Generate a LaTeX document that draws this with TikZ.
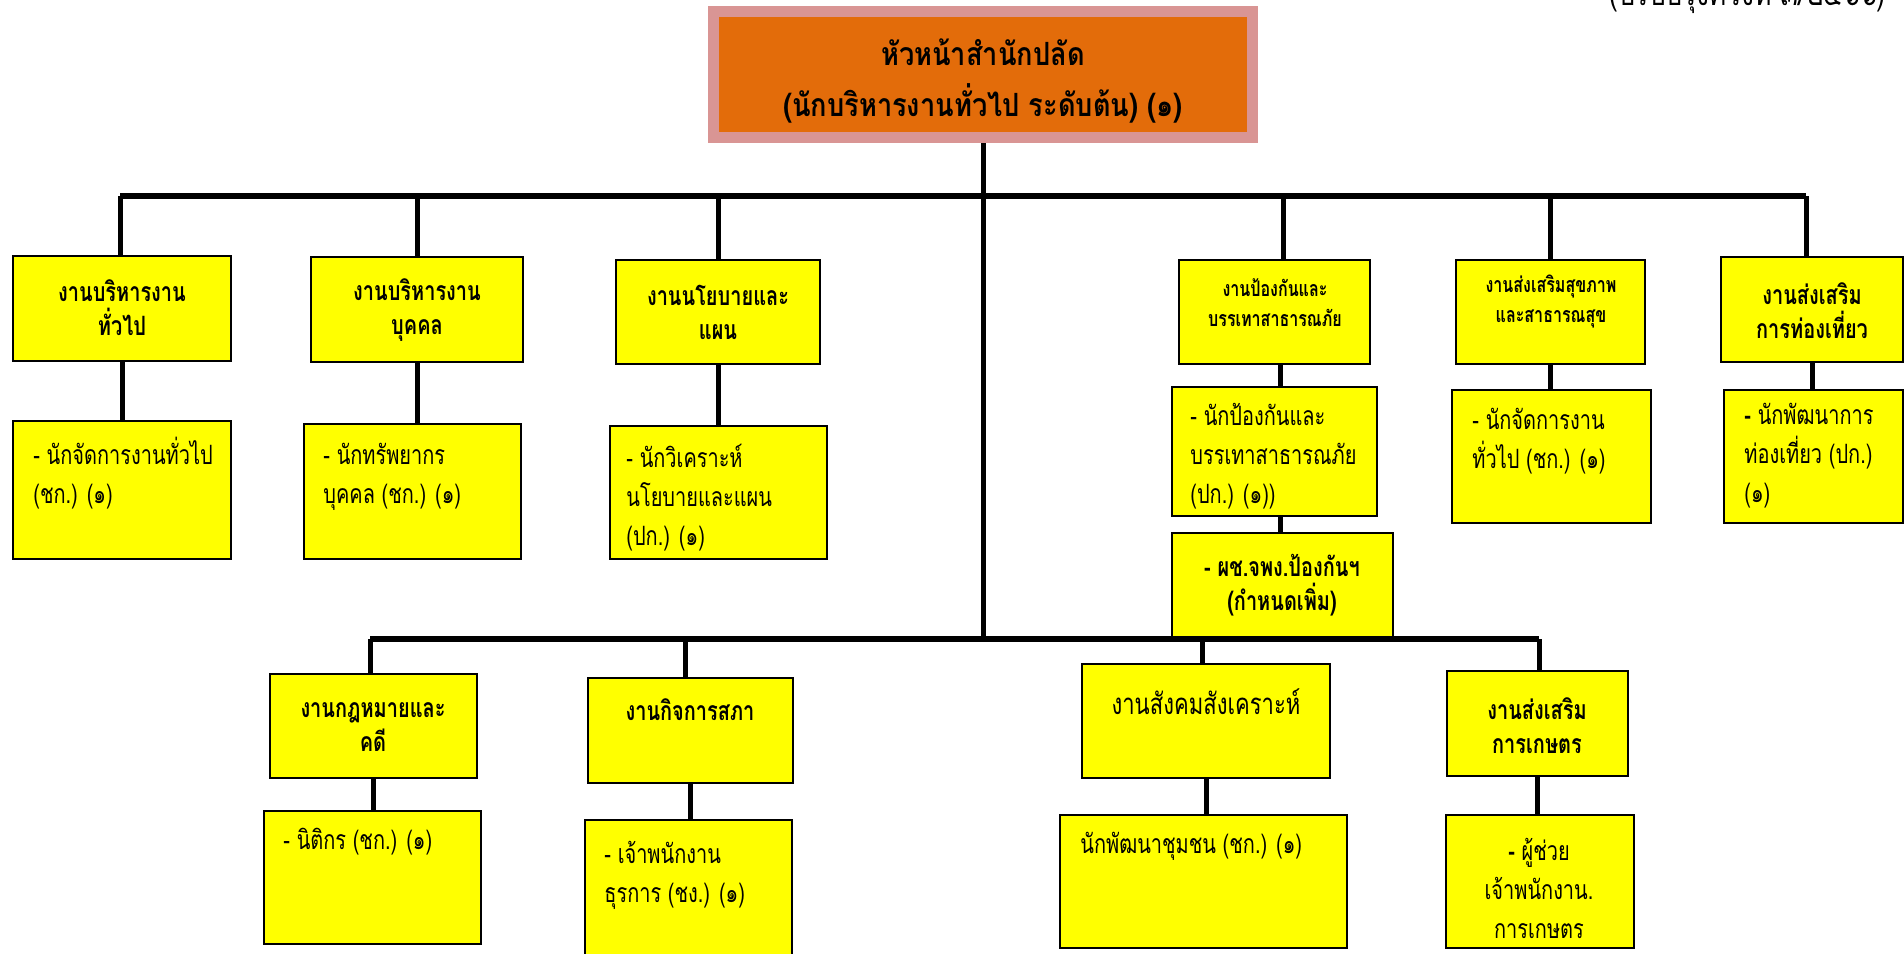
\documentclass[tikz,border=0pt]{standalone}
\usepackage{fontspec}
\newfontfamily\thai[Script=Thai, FakeStretch=0.75]{Loma}
\newfontfamily\thaitop[Script=Thai, FakeStretch=0.85]{Loma}
\definecolor{headorange}{HTML}{E36C0A}
\definecolor{headpink}{HTML}{D99594}
\definecolor{boxyellow}{HTML}{FFFF00}
\tikzset{
  yb/.style={draw=black, fill=boxyellow, line width=1pt, inner sep=0pt},
  conn/.style={line width=2.5pt, draw=black},
  bus/.style={line width=3pt, draw=black},
  hd/.style={font={\thai\bfseries\fontsize{13.3}{17}\selectfont}, align=center, inner sep=0pt},
  hdsmall/.style={font={\thai\bfseries\fontsize{10.7}{15}\selectfont}, align=center, inner sep=0pt},
  bd/.style={font={\thai\fontsize{13.3}{19.5}\selectfont}, align=left, inner sep=0pt, anchor=west},
}
\newcommand\ybox[6]{%
  \node[#6, minimum width={(#4-#2)*0.5pt}, minimum height={(#5-#3)*0.5pt}] (#1) at ({(#2+#4)/2},{(#3+#5)/2}) {};}
\begin{document}
\begin{tikzpicture}[x=0.5pt, y=-0.5pt]
\useasboundingbox (0,0) rectangle (1904,953);

% top box
\ybox{top}{713.5}{11.5}{1252.5}{137.5}{draw=headpink, fill=headorange, line width=5.5pt}
\node[font={\thaitop\bfseries\fontsize{16}{25.5}\selectfont}, align=center, inner sep=0pt] (toptxt) at (983,80.5)
  {หัวหน้าสำนักปลัด\\(นักบริหารงานทั่วไป ระดับต้น) (๑)};

\node[font={\thaitop\fontsize{15.5}{17}\selectfont}, anchor=base east, inner sep=0pt] (rev) at (1886,5) {(ปรับปรุงครั้งที่ ๓/๒๕๖๖)};

% buses
\coordinate (busL) at (120,196);
\coordinate (busR) at (1806,196);
\coordinate (lowL) at (370,639);
\coordinate (lowR) at (1539,639);

% row 1 heads
\ybox{h1}{13}{256}{231}{361}{yb}
\ybox{h2}{311}{257}{523}{362}{yb}
\ybox{h3}{616}{260}{820}{364}{yb}
\ybox{h4}{1179}{260}{1370}{364}{yb}
\ybox{h5}{1456}{260}{1645}{364}{yb}
\ybox{h6}{1721}{257}{1903}{362}{yb}
% row 1 subs
\ybox{s1}{13}{421}{231}{559}{yb}
\ybox{s2}{304}{424}{521}{559}{yb}
\ybox{s3}{610}{426}{827}{559}{yb}
\ybox{s4}{1172}{387}{1377}{516}{yb}
\ybox{s4b}{1172}{533}{1393}{637}{yb}
\ybox{s5}{1452}{390}{1651}{523}{yb}
\ybox{s6}{1724}{390}{1903}{523}{yb}
% row 2 heads
\ybox{h7}{270}{674}{477}{778}{yb}
\ybox{h8}{588}{678}{793}{783}{yb}
\ybox{h9}{1082}{664}{1330}{778}{yb}
\ybox{h10}{1447}{671}{1628}{776}{yb}
% row 2 subs
\ybox{s7}{264}{811}{481}{944}{yb}
\ybox{s8}{585}{820}{792}{960}{yb}
\ybox{s9}{1060}{815}{1347}{948}{yb}
\ybox{s10}{1446}{815}{1634}{948}{yb}

% connectors
\draw[bus] (busL) -- (busR);
\draw[conn] (top.south) -- (top.south |- lowL);
\draw[bus] (lowL) -- (lowR);
\draw[conn] (busL) -- (busL |- h1.north);
\draw[conn] (h2.north) -- (h2.north |- busL);
\draw[conn] (h3.north) -- (h3.north |- busL);
\draw[conn] ([xshift=4.5pt]h4.north) -- ([xshift=4.5pt]h4.north |- busL);
\draw[conn] (h5.north) -- (h5.north |- busL);
\draw[conn] (busR) -- (busR |- h6.north);
\draw[conn] (lowL) -- (lowL |- h7.north);
\draw[conn] ([xshift=-2.5pt]h8.north) -- ([xshift=-2.5pt]h8.north |- lowL);
\draw[conn] ([xshift=-2pt]h9.north) -- ([xshift=-2pt]h9.north |- lowL);
\draw[conn] (lowR) -- (lowR |- h10.north);
\foreach \a/\b in {h1/s1,h2/s2,h3/s3,h5/s5,h6/s6,h7/s7,h8/s8,h9/s9,h10/s10} {
  \draw[conn] (\a.south) -- (\a.south |- \b.north);
}
\draw[conn] ([xshift=3pt]h4.south) -- ([xshift=3pt]h4.south |- s4.north);
\draw[conn] ([xshift=3pt]h4.south |- s4.south) -- ([xshift=3pt]h4.south |- s4b.north);

% head texts
\node[hd] (t1) at (122,308) {งานบริหารงาน\\ทั่วไป};
\node[hd] (t2) at (417,310) {งานบริหารงาน\\บุคคล};
\node[hd] (t3) at (718,312) {งานนโยบายและ\\แผน};
\node[hdsmall] (t4) at (1275,303) {งานป้องกันและ\\บรรเทาสาธารณภัย};
\node[hdsmall] (t5) at (1551,302) {งานส่งเสริมสุขภาพ\\และสาธารณสุข};
\node[hd] (t6) at (1812,311) {งานส่งเสริม\\การท่องเที่ยว};
\node[hd] (t7) at (373,727) {งานกฎหมายและ\\คดี};
\node[hd] (t8) at (690,710) {งานกิจการสภา};
\node[font={\thai\fontsize{14.7}{17}\selectfont}, inner sep=0pt] (t9) at (1206,702) {งานสังคมสังเคราะห์};
\node[hd] (t10) at (1537,726) {งานส่งเสริม\\การเกษตร};

% sub texts
\node[bd] (u1) at (33,473) {- นักจัดการงานทั่วไป\\(ชก.) (๑)};
\node[bd] (u2) at (323,477) {- นักทรัพยากร\\บุคคล (ชก.) (๑)};
\node[bd] (u3) at (626,498) {- นักวิเคราะห์\\นโยบายและแผน\\(ปก.) (๑)};
\node[bd] (u4) at (1190,456) {- นักป้องกันและ\\บรรเทาสาธารณภัย\\(ปก.) (๑))};
\node[hd] (u4b) at (1282,585) {- ผช.จพง.ป้องกันฯ\\(กำหนดเพิ่ม)};
\node[bd] (u5) at (1472,441) {- นักจัดการงาน\\ทั่วไป (ชก.) (๑)};
\node[bd] (u6) at (1744,456) {{\bfseries -} นักพัฒนาการ\\ท่องเที่ยว (ปก.)\\(๑)};
\node[bd] (u7) at (283,842) {- นิติกร (ชก.) (๑)};
\node[bd] (u8) at (604,875) {- เจ้าพนักงาน\\ธุรการ (ชง.) (๑)};
\node[bd] (u9) at (1080,846) {นักพัฒนาชุมชน (ชก.) (๑)};
\node[bd, align=center, anchor=center] (u10) at (1539,888) {{\bfseries -} ผู้ช่วย\\เจ้าพนักงาน.\\การเกษตร};
\end{tikzpicture}
\end{document}
